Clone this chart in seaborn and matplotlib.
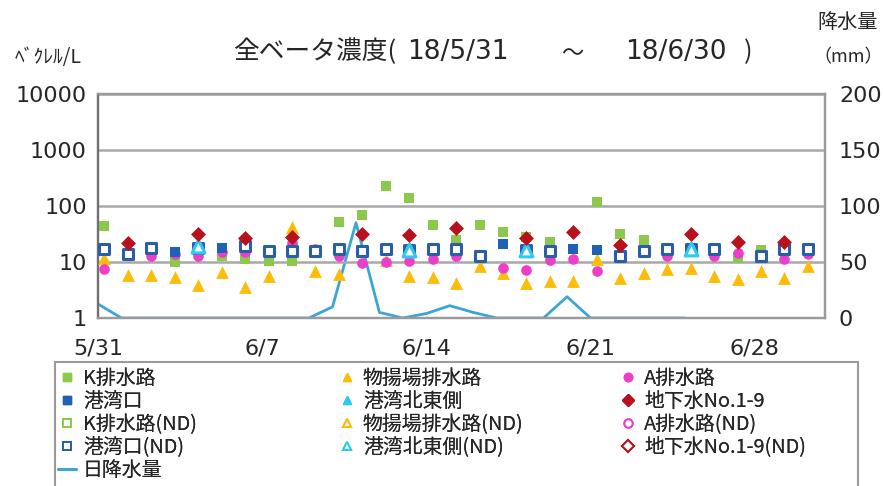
import numpy as np
import pandas as pd
import matplotlib
matplotlib.use("Agg")
import matplotlib.pyplot as plt
from matplotlib.lines import Line2D
from matplotlib.patches import Rectangle
import seaborn as sns

nan = np.nan

# ---- data -------------------------------------------------------------
sample_dates = pd.date_range("2018-05-31 06:30", "2018-06-30 06:30", freq="D")
rain_dates = pd.date_range("2018-05-31", "2018-06-25", freq="D")

k_drain = [44, nan, nan, 10, nan, 12.6, 11.5, 10.5, 10.5, nan,
           52, 69, 232, 138, 46, 25, 46, 34, 28, 22.5,
           nan, 118, 32, 25, nan, nan, nan, 12, 16.5, nan, nan]
port_mouth = [nan, nan, nan, 15, nan, 17.6, nan, nan, nan, nan,
              nan, nan, nan, nan, nan, nan, nan, 21, nan, nan,
              16.9, 16.5, nan, nan, nan, nan, nan, nan, nan, nan, nan]
k_drain_nd = [nan] * 31
port_mouth_nd = [17, 13.8, 17.7, nan, 17.5, nan, 19, 16, 15.5, 15.5,
                 17, 15.5, 17, 16.5, 17, 17, 12.6, nan, 16.5, 16,
                 nan, nan, 12.6, 16, 17, 17, 17, nan, 12.6, 17, 16.9]
loading_drain = [12, 5.8, 5.8, 5.4, 3.9, 6.7, 3.6, 5.6, 42, 6.9,
                 6.0, nan, 11, 5.6, 5.4, 4.3, 8.4, 6.4, 4.3, 4.6,
                 4.6, 11.5, 5.1, 6.4, 7.6, 7.8, 5.6, 4.9, 7.0, 5.1, 8.4]
port_ne = [nan] * 31
loading_drain_nd = [nan] * 31
port_ne_nd = [nan, nan, nan, nan, 19, nan, nan, nan, nan, nan,
              nan, nan, nan, 16.5, nan, nan, nan, nan, 16.5, nan,
              nan, nan, nan, nan, nan, 17, nan, nan, nan, nan, nan]
a_drain = [7.6, nan, 13, 14, 12.6, 15, 15, nan, 22, 17,
           12.6, 9.6, 10, 10.6, 11.5, 12.6, nan, 7.8, 7.3, 11,
           11.5, 7.0, nan, nan, 12.6, nan, 12.6, 14.4, nan, 11.5, 14]
groundwater = [nan, 22, nan, nan, 32, nan, 27, nan, 28, nan,
               nan, 32, nan, 30, nan, 41, nan, nan, 27, nan,
               35, nan, 20, nan, nan, 32, nan, 23, nan, 23, nan]
a_drain_nd = [nan] * 31
groundwater_nd = [nan] * 31

rain_mm = [12.5, 0, 0, 0, 0, 0, 0, 0, 0, 0,
           10, 85, 5, 0, 4, 11, 5, 0, 0, 0,
           19, 0, 0, 0, 0, 0]

x_tick_labels = ["5/31", "6/7", "6/14", "6/21", "6/28"]
y_tick_labels = ["1", "10", "100", "1000", "10000"]
y2_tick_labels = ["0", "50", "100", "150", "200"]

series = {
    "K排水路": k_drain,
    "港湾口": port_mouth,
    "K排水路(ND)": k_drain_nd,
    "港湾口(ND)": port_mouth_nd,
    "物揚場排水路": loading_drain,
    "港湾北東側": port_ne,
    "物揚場排水路(ND)": loading_drain_nd,
    "港湾北東側(ND)": port_ne_nd,
    "A排水路": a_drain,
    "地下水No.1-9": groundwater,
    "A排水路(ND)": a_drain_nd,
    "地下水No.1-9(ND)": groundwater_nd,
}

# ---- styles -----------------------------------------------------------
GREEN = "#8cc84b"
BLUE = "#1f62b5"
BLUE_O = "#2a5fa8"
ORANGE = "#fbbd0a"
CYAN = "#2ccaf2"
MAGENTA = "#ec3ec6"
RED = "#b8101c"
RAIN = "#3ba6d6"

styles = {
    "K排水路": dict(marker="s", color=GREEN, filled=True, s=55),
    "港湾口": dict(marker="s", color=BLUE, filled=True, s=55),
    "K排水路(ND)": dict(marker="s", color=GREEN, filled=False, s=55),
    "港湾口(ND)": dict(marker="s", color=BLUE_O, filled=False, s=60),
    "物揚場排水路": dict(marker="^", color=ORANGE, filled=True, s=85),
    "港湾北東側": dict(marker="^", color=CYAN, filled=True, s=85),
    "物揚場排水路(ND)": dict(marker="^", color=ORANGE, filled=False, s=85),
    "港湾北東側(ND)": dict(marker="^", color=CYAN, filled=False, s=85),
    "A排水路": dict(marker="o", color=MAGENTA, filled=True, s=58),
    "地下水No.1-9": dict(marker="D", color=RED, filled=True, s=58),
    "A排水路(ND)": dict(marker="o", color=MAGENTA, filled=False, s=58),
    "地下水No.1-9(ND)": dict(marker="D", color=RED, filled=False, s=58),
}
draw_order = ["K排水路", "K排水路(ND)", "物揚場排水路", "物揚場排水路(ND)",
              "A排水路", "A排水路(ND)", "港湾口", "港湾口(ND)",
              "港湾北東側", "港湾北東側(ND)", "地下水No.1-9", "地下水No.1-9(ND)"]

# ---- long table -------------------------------------------------------
frames = []
for name, vals in series.items():
    frames.append(pd.DataFrame({"date": sample_dates, "value": vals, "series": name}))
df = pd.concat(frames, ignore_index=True).dropna()
rain_df = pd.DataFrame({"date": rain_dates, "rain": rain_mm})

# ---- figure -----------------------------------------------------------
sns.set_style("white")
plt.rcParams["font.family"] = ["Noto Sans CJK JP", "DejaVu Sans"]

fig = plt.figure(figsize=(8.83, 4.86), dpi=100)
ax = fig.add_axes([98 / 883, 1 - 318 / 486, 727 / 883, 224 / 486])
ax2 = ax.twinx()

sns.lineplot(data=rain_df, x="date", y="rain", ax=ax2, color=RAIN,
             linewidth=2.0, legend=False)

for name in draw_order:
    st = styles[name]
    sub = df[df["series"] == name]
    if sub.empty:
        continue
    if st["filled"]:
        sns.scatterplot(data=sub, x="date", y="value", ax=ax, marker=st["marker"],
                        color=st["color"], s=st["s"], linewidth=0, legend=False,
                        zorder=3)
    else:
        sns.scatterplot(data=sub, x="date", y="value", ax=ax, marker=st["marker"],
                        color="white", edgecolor=st["color"], s=st["s"],
                        linewidth=2.2, legend=False, zorder=3)

ax.set_zorder(ax2.get_zorder() + 1)
ax.patch.set_visible(False)

# left axis
ax.set_yscale("log")
ax.set_ylim(1, 10000)
ax.set_yticks([1, 10, 100, 1000, 10000])
ax.set_yticklabels(y_tick_labels)
ax.yaxis.set_minor_locator(matplotlib.ticker.NullLocator())
ax.grid(axis="y", which="major", color="#a8a8a8", linewidth=1.8)
ax.grid(axis="x", visible=False)

xticks = pd.date_range("2018-05-31", periods=5, freq="7D")
ax.set_xlim(pd.Timestamp("2018-05-31"), pd.Timestamp("2018-07-01"))
ax.set_xticks(xticks)
ax.set_xticklabels(x_tick_labels)
ax.set_xlabel("")
ax.set_ylabel("")

ax2.set_ylim(0, 200)
ax2.set_yticks([0, 50, 100, 150, 200])
ax2.set_yticklabels(y2_tick_labels)
ax2.set_ylabel("")
ax2.grid(False)

ax.tick_params(axis="x", direction="in", length=4, width=1, color="#909090",
               labelsize=16, pad=15, labelfontfamily="DejaVu Sans")
ax.tick_params(axis="y", length=0, labelsize=16, pad=8,
               labelfontfamily="DejaVu Sans")
ax2.tick_params(axis="y", length=0, labelsize=16, pad=10,
                labelfontfamily="DejaVu Sans")

for a in (ax, ax2):
    for sp in a.spines.values():
        sp.set_color("#9a9a9a")
        sp.set_linewidth(1.6)
ax.spines["left"].set_color("#707070")

# texts
ty = 1 - 52 / 486
fig.text(233 / 883, ty, "全ベータ濃度(", fontsize=18.5, ha="left", va="center")
fig.text(407 / 883, ty, "18/5/31", fontsize=19, ha="left", va="center",
         family="DejaVu Sans")
fig.text(572 / 883, 1 - 54 / 486, "～", fontsize=16, ha="center", va="center")
fig.text(625 / 883, ty, "18/6/30", fontsize=19, ha="left", va="center",
         family="DejaVu Sans")
fig.text(748 / 883, ty, ")", fontsize=18.5, ha="center", va="center")
fig.text(15 / 883, 1 - 57 / 486, "ﾍﾞｸﾚﾙ/L", fontsize=14, ha="left", va="center")
fig.text(848 / 883, 1 - 22 / 486, "降水量", fontsize=14.5, ha="center", va="center")
fig.text(848 / 883, 1 - 57 / 486, "（mm）", fontsize=13, ha="center", va="center")

# legend (three columns, one shared frame)
def handle(name):
    if name == "日降水量":
        return Line2D([], [], color=RAIN, linewidth=2)
    st = styles[name]
    if st["filled"]:
        return Line2D([], [], linestyle="none", marker=st["marker"], markersize=6,
                      markerfacecolor=st["color"], markeredgecolor=st["color"])
    return Line2D([], [], linestyle="none", marker=st["marker"], markersize=6,
                  markerfacecolor="white", markeredgecolor=st["color"],
                  markeredgewidth=1.4)

legend_cols = [
    (67, ["K排水路", "港湾口", "K排水路(ND)", "港湾口(ND)", "日降水量"]),
    (347, ["物揚場排水路", "港湾北東側", "物揚場排水路(ND)", "港湾北東側(ND)"]),
    (628, ["A排水路", "地下水No.1-9", "A排水路(ND)", "地下水No.1-9(ND)"]),
]
leg_top = 1 - 362 / 486
fs = 14.3
em = fs * 100 / 72
hl = 0.9
bp = 0.3
for xm, names in legend_cols:
    x0 = xm - bp * em - hl * em / 2
    lg = fig.legend([handle(n) for n in names], names, loc="upper left",
                    bbox_to_anchor=(x0 / 883, leg_top), ncol=1, fontsize=fs,
                    frameon=False, borderaxespad=0, handlelength=hl,
                    handletextpad=0.35, labelspacing=0.1, borderpad=bp)
    fig.add_artist(lg)

fig.add_artist(Rectangle((55 / 883, -0.1), 803 / 883, leg_top + 0.1,
                         transform=fig.transFigure, fill=False,
                         edgecolor="#9a9a9a", linewidth=1.5))

fig.savefig("out.png", dpi=100)
